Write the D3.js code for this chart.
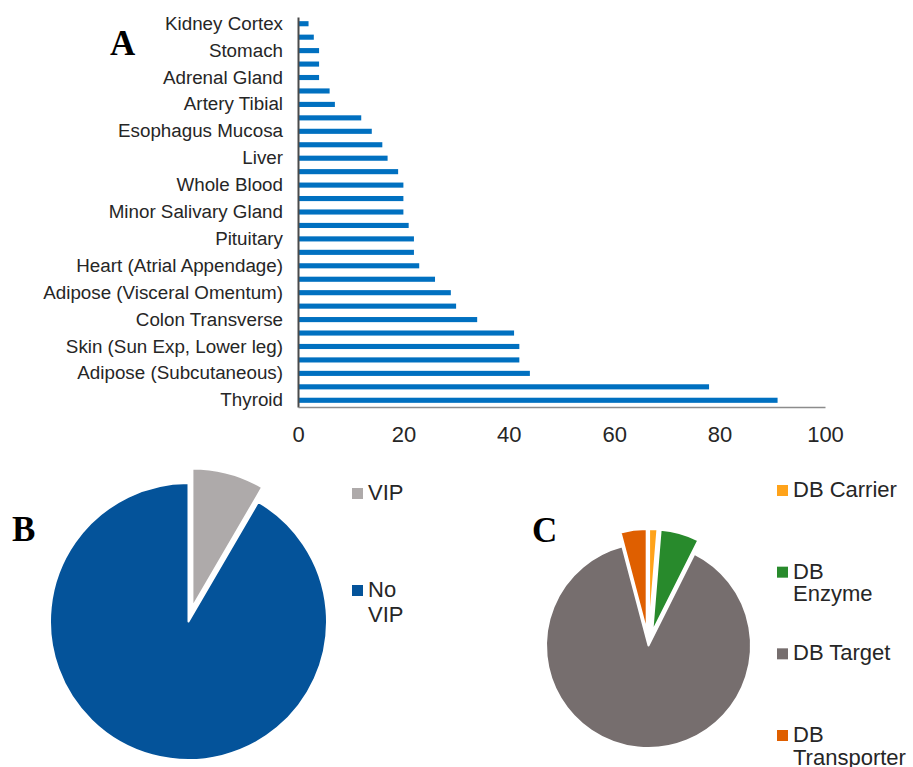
<!DOCTYPE html>
<html>
<head>
<meta charset="utf-8">
<script src="https://cdn.jsdelivr.net/npm/d3@7"></script>
<style>
  html, body { margin: 0; padding: 0; background: #fff; }
  svg { display: block; font-family: "Liberation Sans", Arial, sans-serif; }
</style>
</head>
<body>
<svg id="fig" width="913" height="767"></svg>
<script>
// ---- Panel A: number of genes per tissue (bars, top to bottom) ----
const tissues = [
  "Kidney Cortex", "Brain Cerebellum", "Stomach", "Pancreas", "Adrenal Gland",
  "Muscle Skeletal", "Artery Tibial", "Spleen", "Esophagus Mucosa", "Small Intestine",
  "Liver", "Uterus", "Whole Blood", "Vagina", "Minor Salivary Gland",
  "Prostate", "Pituitary", "Ovary", "Heart (Atrial Appendage)", "Heart (Left Ventricle)",
  "Adipose (Visceral Omentum)", "Colon Sigmoid", "Colon Transverse", "Breast Mammary Tissue",
  "Skin (Sun Exp, Lower leg)", "Skin (Not Sun Exp, Suprapubic)", "Adipose (Subcutaneous)",
  "Lung", "Thyroid"
];
const tissueCounts = [
  2, 3, 4, 4, 4,
  6, 7, 12, 14, 16,
  17, 19, 20, 20, 20,
  21, 22, 22, 23, 26,
  29, 30, 34, 41,
  42, 42, 44,
  78, 91
];
const countTicks = [0, 20, 40, 60, 80, 100];

// ---- Panel B: VIP share ----
const vipLabels = ["VIP", "No VIP"];
const vipValues = [8.4, 91.6];
const vipColors = ["#aeaaaa", "#04539a"];
const vipExploded = [true, false];

// ---- Panel C: DrugBank categories ----
const dbLabels = ["DB Carrier", "DB Enzyme", "DB Target", "DB Transporter"];
const dbValues = [1.3, 6.1, 88.5, 4.1];
const dbColors = ["#ffa31a", "#288a2c", "#766e6e", "#df5f00"];
const dbExploded = [true, true, false, true];

const svg = d3.select("#fig");
const textColor = "#262626";

// ================= Bar chart =================
const x = d3.scaleLinear().domain([0, 100]).range([298, 825]);
const y = d3.scaleBand().domain(tissues).range([17, 407])
  .paddingInner(0.62).paddingOuter(0.31);

svg.append("g").selectAll("rect")
  .data(tissues)
  .join("rect")
  .attr("x", x(0))
  .attr("y", d => y(d))
  .attr("width", (d, i) => x(tissueCounts[i]) - x(0))
  .attr("height", y.bandwidth())
  .attr("fill", "#0070c0");

const yAxis = svg.append("g")
  .attr("transform", `translate(${x(0)},0)`)
  .call(d3.axisLeft(y)
    .tickValues(tissues.filter((d, i) => i % 2 === 0))
    .tickSize(0).tickSizeOuter(0).tickPadding(15));
yAxis.select(".domain").attr("stroke", "#4a4a4a").attr("stroke-width", 2);
yAxis.selectAll("text")
  .attr("font-size", "18.8px")
  .attr("font-family", "Liberation Sans, Arial, sans-serif")
  .attr("fill", textColor);

const xAxis = svg.append("g")
  .attr("transform", `translate(0,${y.range()[1]})`)
  .call(d3.axisBottom(x).tickValues(countTicks)
    .tickSize(0).tickSizeOuter(0).tickPadding(19));
xAxis.select(".domain").attr("stroke", "#8c8c8c").attr("stroke-width", 1.5);
xAxis.selectAll("text")
  .attr("font-size", "22px")
  .attr("font-family", "Liberation Sans, Arial, sans-serif")
  .attr("fill", textColor);

// ================= Panel letters =================
const letters = [["A", 110, 55], ["B", 12, 541], ["C", 532, 542]];
svg.append("g").selectAll("text")
  .data(letters)
  .join("text")
  .attr("x", d => d[1]).attr("y", d => d[2])
  .attr("font-family", "Liberation Serif, Times New Roman, serif")
  .attr("font-weight", "bold")
  .attr("font-size", "35px")
  .attr("fill", "#000")
  .text(d => d[0]);

// ================= Pies =================
function drawPie(cfg) {
  const arcs = d3.pie().sort(null).value(d => d)(cfg.values);
  const arc = d3.arc().innerRadius(0).outerRadius(cfg.r);
  const g = svg.append("g").attr("transform", `translate(${cfg.cx},${cfg.cy})`);
  g.selectAll("path")
    .data(arcs)
    .join("path")
    .attr("d", arc)
    .attr("transform", (d, i) => {
      if (!cfg.exploded[i]) return null;
      const mid = (d.startAngle + d.endAngle) / 2;
      return `translate(${cfg.offset * Math.sin(mid)},${-cfg.offset * Math.cos(mid)})`;
    })
    .attr("fill", (d, i) => cfg.colors[i])
    .attr("stroke", "#fff")
    .attr("stroke-width", 2)
    .attr("stroke-linejoin", "round");
}

function wrapWords(label, maxWidth, fontSize) {
  const ctx = document.createElement("canvas").getContext("2d");
  ctx.font = `${fontSize}px "Liberation Sans", Arial, sans-serif`;
  const words = label.split(" ");
  const lines = [];
  let cur = "";
  words.forEach(w => {
    const test = cur ? cur + " " + w : w;
    if (cur && ctx.measureText(test).width > maxWidth) { lines.push(cur); cur = w; }
    else cur = test;
  });
  if (cur) lines.push(cur);
  return lines;
}

function drawLegend(cfg) {
  const rowY = d3.scalePoint().domain(cfg.labels).range(cfg.yRange);
  const g = svg.append("g");
  cfg.labels.forEach((lab, i) => {
    const top = rowY(lab);
    g.append("rect")
      .attr("x", cfg.x).attr("y", top)
      .attr("width", 11).attr("height", 11)
      .attr("fill", cfg.colors[i]);
    const lines = wrapWords(lab, cfg.wrap, cfg.fontSize);
    const t = g.append("text")
      .attr("x", cfg.x + 16).attr("y", top + 12)
      .attr("font-size", cfg.fontSize + "px")
      .attr("fill", textColor);
    lines.forEach((ln, k) => {
      t.append("tspan").attr("x", cfg.x + 16).attr("dy", k === 0 ? 0 : cfg.lineHeight).text(ln);
    });
  });
}

drawPie({ cx: 188.5, cy: 621.5, r: 138.5, offset: 15,
  values: vipValues, colors: vipColors, exploded: vipExploded });
drawLegend({ x: 352, yRange: [488, 585], labels: vipLabels, colors: vipColors,
  fontSize: 22, wrap: 50, lineHeight: 25 });

drawPie({ cx: 648.5, cy: 645.5, r: 102.5, offset: 14,
  values: dbValues, colors: dbColors, exploded: dbExploded });
drawLegend({ x: 777, yRange: [485, 730], labels: dbLabels, colors: dbColors,
  fontSize: 22, wrap: 108, lineHeight: 22.5 });
</script>
</body>
</html>
